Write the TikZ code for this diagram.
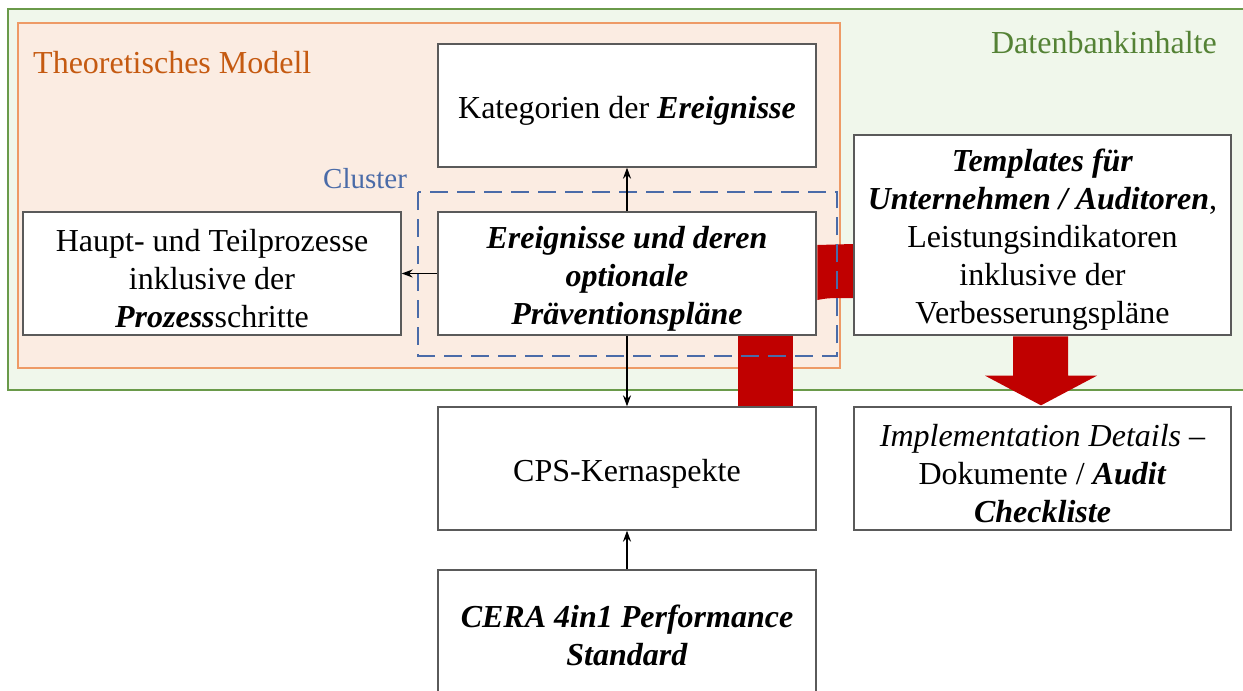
\documentclass[tikz,border=0pt]{standalone}
\usepackage{fontspec}
\setmainfont{Liberation Serif}
\usetikzlibrary{arrows.meta,calc}
\definecolor{dbline}{HTML}{6A9A4A}
\definecolor{dbfill}{HTML}{F0F7EB}
\definecolor{dbtext}{HTML}{548235}
\definecolor{modelline}{HTML}{EE9A66}
\definecolor{modelfill}{HTML}{FBECE2}
\definecolor{modeltext}{HTML}{C55A11}
\definecolor{clusterblue}{HTML}{4A6BA8}
\definecolor{boxgray}{HTML}{5A5A5A}
\definecolor{cpsred}{HTML}{C00000}
\newcommand{\bi}[1]{\textbf{\textit{#1}}}
% taller first line, so the text block sits a little lower in its box
\newcommand{\firstline}{\rule{0pt}{32pt}}
\begin{document}
\begin{tikzpicture}[x=1pt,y=-1pt,
  txt/.style={font=\fontsize{32}{38}\selectfont},
  box/.style={txt, draw=boxgray, fill=white, line width=1.3pt, align=center,
    minimum width=378pt, minimum height=123pt, inner sep=0pt},
  conn/.style={line width=1.7pt, -{Stealth[length=11pt,width=8pt]}},
  redband/.style={fill=cpsred, draw=none}]
\useasboundingbox (0,0) rectangle (1243,691);
\fill[white] (0,0) rectangle (1243,691);

% database area and theoretical model area
\draw[dbline, fill=dbfill, line width=2pt] (8,9) rectangle (1270,390);
\draw[modelline, fill=modelfill, line width=1.5pt] (18,23) rectangle (840,368);
\node[txt, anchor=base east, text=dbtext, inner sep=0pt] (lbldb) at (1217,53) {Datenbankinhalte};
\node[txt, anchor=base west, text=modeltext, inner sep=0pt] (lblmodel) at (33,73) {Theoretisches Modell};
\node[font=\fontsize{29}{34}\selectfont, anchor=base west, text=clusterblue, inner sep=0pt] (lblcluster) at (323,188) {Cluster};

% boxes
\node[box] (kat) at (627,105.5) {\firstline Kategorien der \bi{Ereignisse}};
\node[box] (ereig) at (627,273.5) {\firstline\bi{Ereignisse und deren}\\\bi{optionale}\\\bi{Präventionspläne}};
\node[box] (haupt) at (212,273.5) {\firstline Haupt- und Teilprozesse\\inklusive der\\\bi{Prozess}schritte};
\node[box, minimum width=377pt, minimum height=200pt] (templ) at (1042.5,235)
  {\firstline\bi{Templates für}\\\bi{Unternehmen / Auditoren},\\Leistungsindikatoren\\inklusive der\\Verbesserungspläne};
\node[box] (cps) at (627,468.5) {\firstline CPS-Kernaspekte};
\node[box, minimum width=377pt] (impl) at (1042.5,468.5)
  {\firstline\textit{Implementation Details} --\\Dokumente / \bi{Audit}\\\bi{Checkliste}};
\node[box, minimum height=130pt] (cera) at (627,635) {\bi{CERA 4in1 Performance}\\\bi{Standard}};

% thick red links
\fill[redband] ($(ereig.east |- templ.west)+(0.6,10)$) -- ($(templ.west)+(-0.6,9)$)
  -- ($(templ.west)+(-0.6,63)$) .. controls ($(templ.west)+(-25,63)$) .. ($(ereig.east |- templ.west)+(0.6,65)$) -- cycle;
\fill[redband] ($(ereig.south)+(111,0.6)$) rectangle ($(cps.north)+(166,-0.6)$);
\fill[redband] ($(templ.south)+(-29.5,0.6)$) -- ($(templ.south)+(25.5,0.6)$)
  -- ($(templ.south)+(25.5,40)$) -- ($(templ.south)+(54.5,40)$)
  -- ($(impl.north)+(-1.5,-1)$) -- ($(templ.south)+(-57.5,40)$)
  -- ($(templ.south)+(-29.5,40)$) -- cycle;

% cluster frame
\draw[clusterblue, line width=2pt, dash pattern=on 18pt off 9pt]
  ($(ereig.north west)+(-19,-19)$) rectangle ($(ereig.south east)+(20,20)$);

% connectors
\draw[conn] (ereig.north) -- (kat.south);
\draw[conn] (ereig.west) -- (haupt.east);
\draw[conn] (ereig.south) -- (cps.north);
\draw[conn] (cera.north) -- (cps.south);
\end{tikzpicture}
\end{document}
